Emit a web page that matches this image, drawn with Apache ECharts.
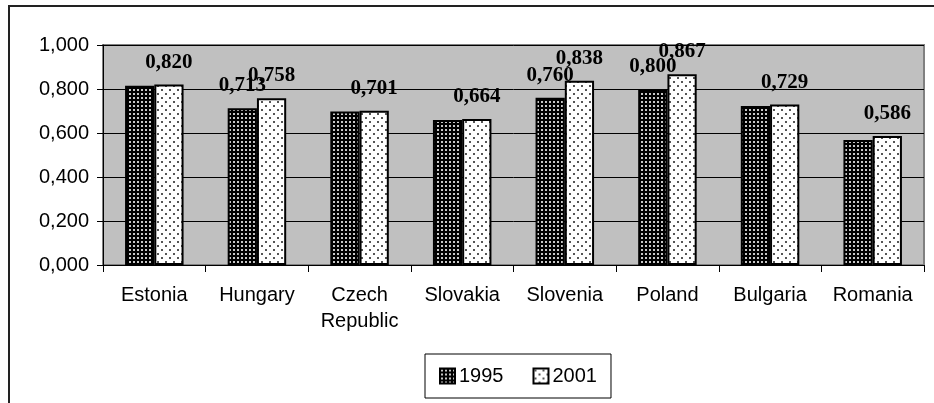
<!DOCTYPE html>
<html>
<head>
<meta charset="utf-8">
<script src="https://cdn.jsdelivr.net/npm/echarts@6/dist/echarts.min.js"></script>
<style>
  html, body { margin: 0; padding: 0; background: #fff; }
  #chart { width: 934px; height: 403px; }
</style>
</head>
<body>
<div id="chart"></div>
<script>
// Data
const countries = ['Estonia', 'Hungary', 'Czech\nRepublic', 'Slovakia', 'Slovenia', 'Poland', 'Bulgaria', 'Romania'];
const values1995 = [0.815, 0.713, 0.698, 0.659, 0.760, 0.800, 0.723, 0.568];
const values2001 = [0.820, 0.758, 0.701, 0.664, 0.838, 0.867, 0.729, 0.586];
// which 1995 bars carry a visible value label
const labeled1995 = [false, true, false, false, true, true, false, false];
const yTicks = [0, 0.2, 0.4, 0.6, 0.8, 1.0];

const fmt = v => v.toFixed(3).replace('.', ',');

// Fill patterns for the bars
function makePattern(size, bg, dot, dots) {
  const c = document.createElement('canvas');
  c.width = size; c.height = size;
  const ctx = c.getContext('2d');
  ctx.fillStyle = bg;
  ctx.fillRect(0, 0, size, size);
  ctx.fillStyle = dot;
  dots.forEach(d => ctx.fillRect(d[0], d[1], d[2], d[2]));
  return c;
}
const darkPattern = makePattern(4, '#000', '#c8c8c8', [[1, 1, 2]]);
const lightPattern = makePattern(8, '#fff', '#555', [[1, 1, 2], [5, 5, 2]]);

const labelStyle = {
  position: 'top',
  distance: 12,
  fontFamily: 'Liberation Serif',
  fontWeight: 'bold',
  fontSize: 21,
  color: '#000',
  formatter: p => fmt(p.value)
};

const chart = echarts.init(document.getElementById('chart'), null, { renderer: 'canvas' });

const option = {
  backgroundColor: '#fff',
  animation: false,
  textStyle: { fontFamily: 'Liberation Sans' },
  graphic: [{
    type: 'rect',
    shape: { x: 9, y: 6, width: 960, height: 440 },
    style: { fill: 'none', stroke: '#222', lineWidth: 2 },
    silent: true,
    z: -1
  }],
  grid: {
    left: 103, right: 10, top: 45, bottom: 138,
    show: true,
    backgroundColor: '#c0c0c0',
    borderColor: '#808080',
    borderWidth: 2
  },
  legend: {
    left: 425, top: 354,
    orient: 'horizontal',
    itemWidth: 15, itemHeight: 15,
    itemGap: 29,
    padding: [12, 14, 12, 14],
    borderColor: '#000',
    borderWidth: 1,
    icon: 'rect',
    textStyle: { fontFamily: 'Liberation Sans', fontSize: 20, color: '#000', padding: [0, 0, 0, -1] },
    data: ['1995', '2001']
  },
  xAxis: {
    type: 'category',
    data: countries,
    axisLine: { lineStyle: { color: '#000', width: 1 } },
    axisTick: { show: true, length: 7, lineStyle: { color: '#000' } },
    axisLabel: {
      color: '#000', fontSize: 20, margin: 17, lineHeight: 26,
      fontFamily: 'Liberation Sans', interval: 0
    },
    splitLine: { show: false }
  },
  yAxis: {
    type: 'value',
    min: yTicks[0], max: yTicks[yTicks.length - 1], interval: 0.2,
    axisLine: { show: true, lineStyle: { color: '#000', width: 1 } },
    axisTick: { show: true, length: 6, lineStyle: { color: '#000' } },
    axisLabel: {
      color: '#000', fontSize: 20, margin: 14,
      fontFamily: 'Liberation Sans',
      formatter: v => fmt(v)
    },
    splitLine: { show: true, lineStyle: { color: '#000', width: 1 } }
  },
  series: [
    {
      name: '1995',
      type: 'bar',
      barGap: '0%',
      barCategoryGap: '43%',
      itemStyle: { color: { image: darkPattern, repeat: 'repeat' }, borderColor: '#000', borderWidth: 2 },
      data: values1995.map((v, i) => ({ value: v, label: { show: labeled1995[i] } })),
      label: labelStyle
    },
    {
      name: '2001',
      type: 'bar',
      itemStyle: { color: { image: lightPattern, repeat: 'repeat' }, borderColor: '#000', borderWidth: 2 },
      data: values2001,
      label: Object.assign({ show: true }, labelStyle)
    }
  ]
};

chart.setOption(option);
</script>
</body>
</html>
